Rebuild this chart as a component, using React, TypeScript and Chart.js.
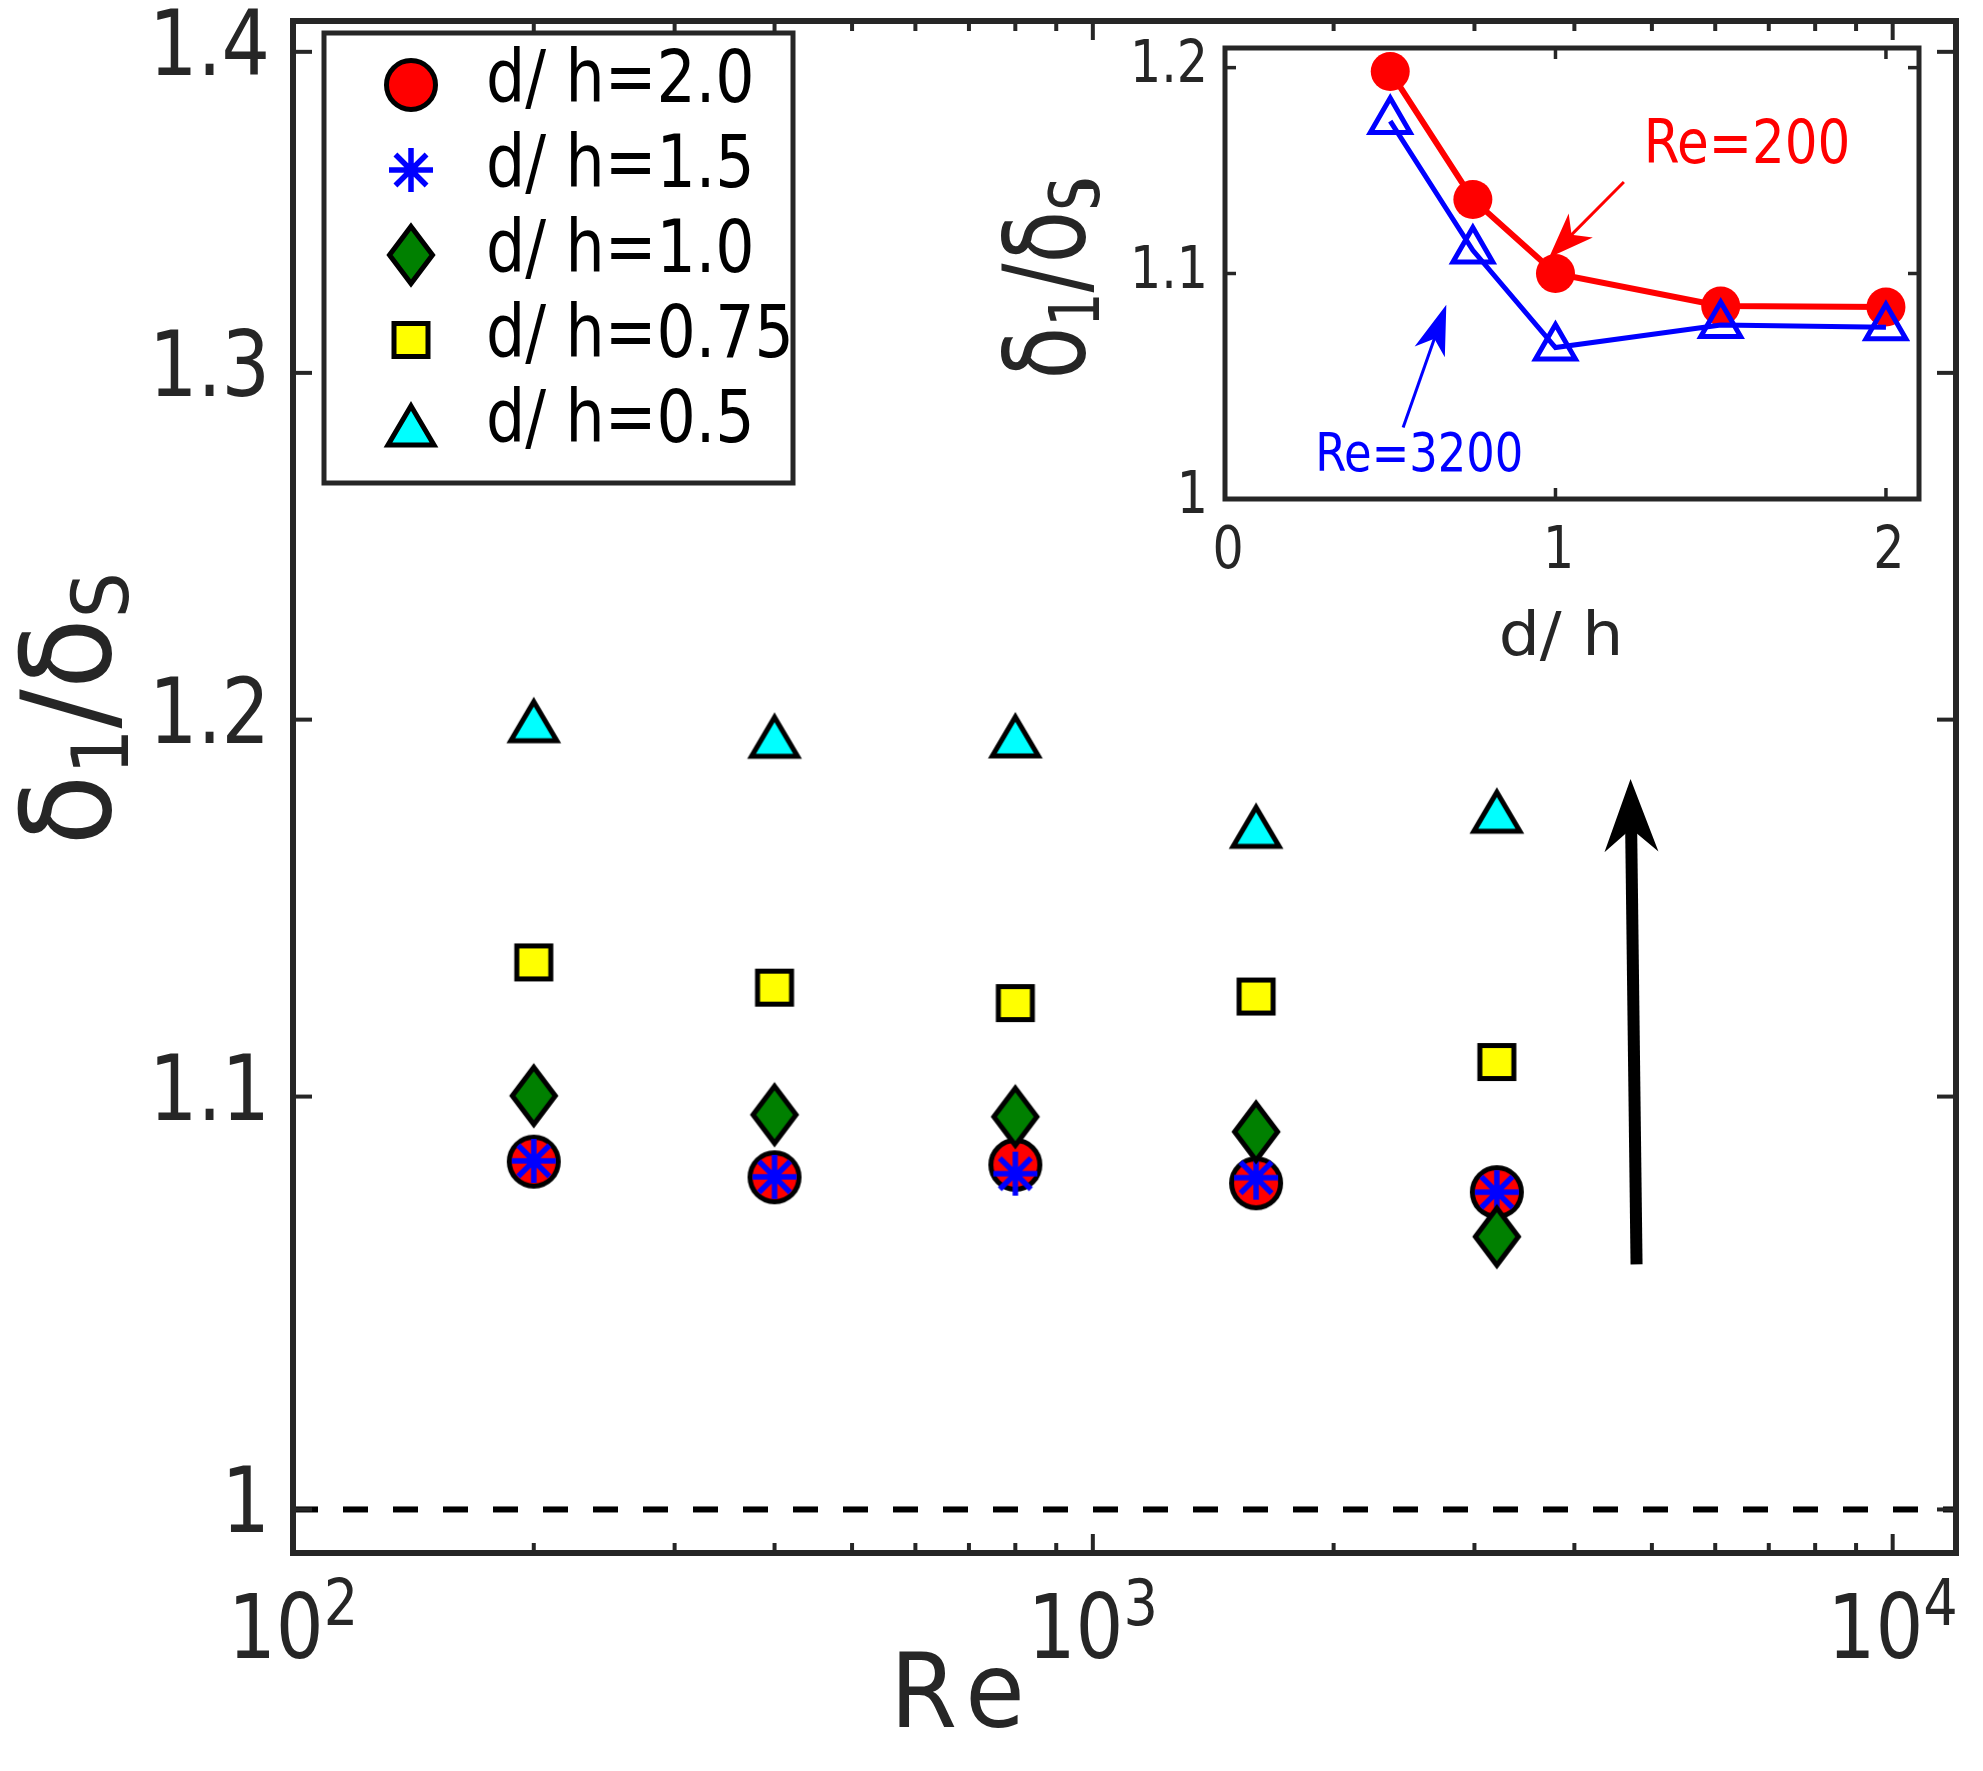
import React, { useEffect, useRef } from 'react';
import { Chart, registerables } from 'chart.js';

Chart.register(...registerables);

const FONT_C = "'DejaVu Sans Condensed', 'DejaVu Sans', sans-serif";
const FONT_N = "'DejaVu Sans', sans-serif";
const AXIS_COLOR = '#262626';
const SX_C = 0.94;
const SX_N = 0.93;

// ---------------- main chart data ----------------
const reValues = [200, 400, 800, 1600, 3200];
const dh20 = [1.0836, 1.0797, 1.0828, 1.0782, 1.076];
const dh15 = [1.0838, 1.0798, 1.0806, 1.0796, 1.076];
const dh10 = [1.1002, 1.0954, 1.0949, 1.0911, 1.065];
const dh075 = [1.1346, 1.128, 1.124, 1.1257, 1.1088];
const dh05 = [1.1997, 1.1954, 1.1955, 1.1708, 1.1749];
const seriesLabels = ['d/ h=2.0', 'd/ h=1.5', 'd/ h=1.0', 'd/ h=0.75', 'd/ h=0.5'];
const markerKinds = ['circle', 'asterisk', 'diamond', 'square', 'triangle'];

const yTicks = [1, 1.1, 1.2, 1.3, 1.4];
const yTickLabels = ['1', '1.1', '1.2', '1.3', '1.4'];
const xMajorTicks = [100, 1000, 10000];
const xTickExponents = ['2', '3', '4'];
const xMinorTicks = [200, 300, 400, 500, 600, 700, 800, 900, 2000, 3000, 4000, 5000, 6000, 7000, 8000, 9000];
const refLineX = [100, 12000];
const refLineY = [1, 1];
const arrowTail = [4784, 1.0582];
const arrowTip = [4702, 1.1837];

// ---------------- inset data ----------------
const dhValues = [0.5, 0.75, 1.0, 1.5, 2.0];
const insetRe200 = [1.198, 1.135, 1.1, 1.085, 1.0845];
const insetRe3200 = [1.1732, 1.1108, 1.0661, 1.0763, 1.0753];
const insetXTicks = [0, 1, 2];
const insetXTickLabels = ['0', '1', '2'];
const insetYTicks = [1, 1.1, 1.2];
const insetYTickLabels = ['1', '1.1', '1.2'];
const redArrowTail = [1.207, 1.1434];
const redArrowTip = [0.9806, 1.1075];
const redTextPos = [1.267, 1.1528];
const blueArrowTail = [0.539, 1.0307];
const blueArrowTip = [0.6697, 1.0856];
const blueTextPos = [0.273, 1.012];

type Piece = { t: string; size: number; dy?: number; kern?: number };

function textW(ctx: CanvasRenderingContext2D, t: string, size: number, family = FONT_C, sx = SX_C) {
  ctx.font = `${size}px ${family}`;
  return ctx.measureText(t).width * sx;
}

function text(
  ctx: CanvasRenderingContext2D,
  t: string,
  x: number,
  y: number,
  size: number,
  align: CanvasTextAlign = 'left',
  color?: string,
  family = FONT_C,
  sx = SX_C
) {
  ctx.save();
  if (color) ctx.fillStyle = color;
  ctx.font = `${size}px ${family}`;
  ctx.textAlign = align;
  ctx.textBaseline = 'alphabetic';
  ctx.translate(x, y);
  ctx.scale(sx, 1);
  ctx.fillText(t, 0, 0);
  ctx.restore();
}

function piecesWidth(ctx: CanvasRenderingContext2D, pieces: Piece[], sx: number) {
  let w = 0;
  for (const p of pieces) w += textW(ctx, p.t, p.size, FONT_N, sx) + (p.kern || 0);
  return w;
}

function drawPieces(ctx: CanvasRenderingContext2D, pieces: Piece[], x: number, y: number, sx: number) {
  let cx = x;
  for (const p of pieces) {
    text(ctx, p.t, cx, y + (p.dy || 0), p.size, 'left', undefined, FONT_N, sx);
    cx += textW(ctx, p.t, p.size, FONT_N, sx) + (p.kern || 0);
  }
}

function makeMarker(kind: string): HTMLCanvasElement {
  const c = document.createElement('canvas');
  let w = 66;
  let h = 66;
  if (kind === 'diamond') {
    w = 60;
    h = 78;
  }
  c.width = w;
  c.height = h;
  const ctx = c.getContext('2d') as CanvasRenderingContext2D;
  const cx = w / 2;
  const cy = h / 2;
  ctx.lineJoin = 'miter';
  ctx.lineWidth = 5;
  ctx.strokeStyle = '#000000';
  ctx.beginPath();
  if (kind === 'circle') {
    ctx.arc(cx, cy, 24.5, 0, Math.PI * 2);
    ctx.fillStyle = '#ff0000';
    ctx.fill();
    ctx.stroke();
  } else if (kind === 'asterisk') {
    ctx.strokeStyle = '#0000ff';
    ctx.lineWidth = 5.5;
    for (let k = 0; k < 4; k++) {
      const a = (k * Math.PI) / 4;
      ctx.moveTo(cx - 22 * Math.cos(a), cy - 22 * Math.sin(a));
      ctx.lineTo(cx + 22 * Math.cos(a), cy + 22 * Math.sin(a));
    }
    ctx.stroke();
  } else if (kind === 'diamond') {
    ctx.moveTo(cx, cy - 28.5);
    ctx.lineTo(cx + 21.5, cy);
    ctx.lineTo(cx, cy + 28.5);
    ctx.lineTo(cx - 21.5, cy);
    ctx.closePath();
    ctx.fillStyle = '#008000';
    ctx.fill();
    ctx.stroke();
  } else if (kind === 'square') {
    ctx.rect(cx - 17, cy - 16.5, 34, 33);
    ctx.fillStyle = '#ffff00';
    ctx.fill();
    ctx.stroke();
  } else if (kind === 'triangle') {
    ctx.moveTo(cx, cy - 19);
    ctx.lineTo(cx + 23, cy + 20);
    ctx.lineTo(cx - 23, cy + 20);
    ctx.closePath();
    ctx.fillStyle = '#00ffff';
    ctx.fill();
    ctx.stroke();
  }
  return c;
}

function drawArrow(
  ctx: CanvasRenderingContext2D,
  x0: number,
  y0: number,
  x1: number,
  y1: number,
  lw: number,
  headLen: number,
  headHalfW: number,
  notchLen: number,
  color: string
) {
  const dx = x1 - x0;
  const dy = y1 - y0;
  const L = Math.hypot(dx, dy);
  const ux = dx / L;
  const uy = dy / L;
  const px = -uy;
  const py = ux;
  ctx.save();
  ctx.strokeStyle = color;
  ctx.fillStyle = color;
  ctx.lineWidth = lw;
  ctx.lineCap = 'butt';
  ctx.beginPath();
  ctx.moveTo(x0, y0);
  ctx.lineTo(x1 - ux * (notchLen - 2), y1 - uy * (notchLen - 2));
  ctx.stroke();
  ctx.beginPath();
  ctx.moveTo(x1, y1);
  ctx.lineTo(x1 - ux * headLen + px * headHalfW, y1 - uy * headLen + py * headHalfW);
  ctx.lineTo(x1 - ux * notchLen, y1 - uy * notchLen);
  ctx.lineTo(x1 - ux * headLen - px * headHalfW, y1 - uy * headLen - py * headHalfW);
  ctx.closePath();
  ctx.fill();
  ctx.restore();
}

function line(ctx: CanvasRenderingContext2D, a: number, b: number, c: number, d: number) {
  ctx.beginPath();
  ctx.moveTo(a, b);
  ctx.lineTo(c, d);
  ctx.stroke();
}

const zeroPad = (s: any) => {
  s.paddingTop = 0;
  s.paddingBottom = 0;
  s.paddingLeft = 0;
  s.paddingRight = 0;
};

const mainPlugin = {
  id: 'mainDecor',
  afterDraw(chart: any) {
    const ctx: CanvasRenderingContext2D = chart.ctx;
    const area = chart.chartArea;
    const xs = chart.scales.x;
    const ys = chart.scales.y;
    ctx.save();
    ctx.strokeStyle = AXIS_COLOR;
    ctx.fillStyle = AXIS_COLOR;
    // ticks
    ctx.lineWidth = 4;
    yTicks.forEach((v) => {
      const p = ys.getPixelForValue(v);
      line(ctx, area.left, p, area.left + 19, p);
      line(ctx, area.right, p, area.right - 19, p);
    });
    xMajorTicks.forEach((v) => {
      const p = xs.getPixelForValue(v);
      line(ctx, p, area.bottom, p, area.bottom - 19);
      line(ctx, p, area.top, p, area.top + 19);
    });
    xMinorTicks.forEach((v) => {
      const p = xs.getPixelForValue(v);
      line(ctx, p, area.bottom, p, area.bottom - 10);
      line(ctx, p, area.top, p, area.top + 10);
    });
    // box
    ctx.lineWidth = 6;
    ctx.strokeRect(area.left, area.top, area.right - area.left, area.bottom - area.top);

    // y tick labels
    yTicks.forEach((v, i) => {
      const p = ys.getPixelForValue(v);
      text(ctx, yTickLabels[i], area.left - 23, p + 23, 90, 'right');
    });

    // x tick labels 10^n
    xMajorTicks.forEach((v, i) => {
      const p = xs.getPixelForValue(v);
      const w10 = textW(ctx, '10', 89);
      const ws = textW(ctx, xTickExponents[i], 64);
      const total = w10 + ws;
      const start = p - total / 2;
      text(ctx, '10', start, 1658, 89, 'left');
      text(ctx, xTickExponents[i], start + w10, 1625, 64, 'left');
    });

    // x title
    text(ctx, 'R', 890, 1727, 104, 'left', undefined, FONT_N, SX_N);
    text(ctx, 'e', 890 + textW(ctx, 'R', 104, FONT_N, SX_N) + 8, 1727, 104, 'left', undefined, FONT_N, SX_N);

    // y title
    const yPieces: Piece[] = [
      { t: 'δ', size: 125 },
      { t: '1', size: 78, dy: 18 },
      { t: '/', size: 125 },
      { t: 'δ', size: 125 },
      { t: 'S', size: 78, dy: 18 },
    ];
    const tw = piecesWidth(ctx, yPieces, SX_N);
    ctx.save();
    ctx.translate(110, 709 + tw / 2);
    ctx.rotate(-Math.PI / 2);
    drawPieces(ctx, yPieces, 0, 0, SX_N);
    ctx.restore();

    // legend
    const lx0 = 324;
    const ly0 = 33;
    const lx1 = 793;
    const ly1 = 483;
    ctx.fillStyle = '#ffffff';
    ctx.fillRect(lx0, ly0, lx1 - lx0, ly1 - ly0);
    ctx.lineWidth = 5;
    ctx.strokeStyle = AXIS_COLOR;
    ctx.strokeRect(lx0, ly0, lx1 - lx0, ly1 - ly0);
    const ds = chart.data.datasets.filter((d: any) => d.isSeries);
    ds.forEach((d: any, i: number) => {
      const cy = 85 + i * 85;
      const img: HTMLCanvasElement = d.pointStyle;
      ctx.drawImage(img, 411 - img.width / 2, cy - img.height / 2);
      text(ctx, d.label, 486, cy + 17, 73, 'left', '#000000');
    });

    // arrow
    drawArrow(
      ctx,
      xs.getPixelForValue(arrowTail[0]),
      ys.getPixelForValue(arrowTail[1]),
      xs.getPixelForValue(arrowTip[0]),
      ys.getPixelForValue(arrowTip[1]),
      12,
      73,
      27,
      50,
      '#000000'
    );
    ctx.restore();
  },
};

const insetPlugin = {
  id: 'insetDecor',
  afterDraw(chart: any) {
    const ctx: CanvasRenderingContext2D = chart.ctx;
    const area = chart.chartArea;
    const xs = chart.scales.x;
    const ys = chart.scales.y;
    ctx.save();
    ctx.strokeStyle = AXIS_COLOR;
    ctx.fillStyle = AXIS_COLOR;
    ctx.lineWidth = 3.5;
    insetYTicks.forEach((v) => {
      const p = ys.getPixelForValue(v);
      line(ctx, area.left, p, area.left + 11, p);
      line(ctx, area.right, p, area.right - 11, p);
    });
    insetXTicks.forEach((v) => {
      const p = xs.getPixelForValue(v);
      line(ctx, p, area.bottom, p, area.bottom - 11);
      line(ctx, p, area.top, p, area.top + 11);
    });
    ctx.lineWidth = 5;
    ctx.strokeRect(area.left, area.top, area.right - area.left, area.bottom - area.top);

    // tick labels
    insetYTicks.forEach((v, i) => {
      const p = ys.getPixelForValue(v);
      text(ctx, insetYTickLabels[i], area.left - 17, p + 14, 58, 'right');
    });
    insetXTicks.forEach((v, i) => {
      const p = xs.getPixelForValue(v);
      text(ctx, insetXTickLabels[i], p + 3, area.bottom + 69, 58, 'center');
    });

    // x title
    text(ctx, 'd/ h', 581, 635, 60, 'center', undefined, FONT_N, 1.08);

    // y title
    const yPieces: Piece[] = [
      { t: 'δ', size: 112 },
      { t: '1', size: 70, dy: 15 },
      { t: '/', size: 112 },
      { t: 'δ', size: 112 },
      { t: 'S', size: 70, dy: 15 },
    ];
    const sxY = 0.77;
    const tw = piecesWidth(ctx, yPieces, sxY);
    ctx.save();
    ctx.translate(104, 258 + tw / 2);
    ctx.rotate(-Math.PI / 2);
    drawPieces(ctx, yPieces, 0, 0, sxY);
    ctx.restore();
    ctx.lineWidth = 4;
    line(ctx, 95, 167, 113, 167);

    // annotations
    drawArrow(
      ctx,
      xs.getPixelForValue(redArrowTail[0]),
      ys.getPixelForValue(redArrowTail[1]),
      xs.getPixelForValue(redArrowTip[0]),
      ys.getPixelForValue(redArrowTip[1]),
      3,
      45,
      17,
      32,
      '#ff0000'
    );
    drawArrow(
      ctx,
      xs.getPixelForValue(blueArrowTail[0]),
      ys.getPixelForValue(blueArrowTail[1]),
      xs.getPixelForValue(blueArrowTip[0]),
      ys.getPixelForValue(blueArrowTip[1]),
      3,
      50,
      16,
      36,
      '#0000ff'
    );
    text(ctx, 'Re=200', xs.getPixelForValue(redTextPos[0]), ys.getPixelForValue(redTextPos[1]), 61, 'left', '#ff0000');
    text(ctx, 'Re=3200', xs.getPixelForValue(blueTextPos[0]), ys.getPixelForValue(blueTextPos[1]), 53, 'left', '#0000ff');
    ctx.restore();
  },
};

export default function App() {
  const mainRef = useRef<HTMLCanvasElement | null>(null);
  const insetRef = useRef<HTMLCanvasElement | null>(null);

  useEffect(() => {
    const markers = markerKinds.map((k) => makeMarker(k));
    const series = [dh20, dh15, dh10, dh075, dh05];
    const datasets: any[] = [
      {
        label: 'reference',
        data: refLineX.map((x, i) => ({ x, y: refLineY[i] })),
        showLine: true,
        borderColor: '#000000',
        borderWidth: 6,
        borderDash: [25, 25],
        pointRadius: 0,
        order: 10,
        isSeries: false,
      },
    ];
    series.forEach((s, i) => {
      datasets.push({
        label: seriesLabels[i],
        data: reValues.map((x, j) => ({ x, y: s[j] })),
        showLine: false,
        pointStyle: markers[i],
        pointRadius: 20,
        pointHoverRadius: 20,
        order: 5 - i,
        isSeries: true,
      });
    });

    const main = new Chart(mainRef.current as HTMLCanvasElement, {
      type: 'scatter',
      data: { datasets },
      options: {
        animation: false,
        responsive: false,
        maintainAspectRatio: false,
        events: [],
        layout: { padding: { left: 0, top: 15, right: 27, bottom: 0 } },
        plugins: { legend: { display: false }, tooltip: { enabled: false } },
        scales: {
          x: {
            type: 'logarithmic',
            min: 100,
            max: 12000,
            grid: { display: false, drawTicks: false },
            border: { display: false },
            ticks: { display: false },
            afterBuildTicks: (s: any) => {
              s.ticks = xMajorTicks.map((v) => ({ value: v }));
            },
            afterFit: (s: any) => {
              s.height = 218;
              zeroPad(s);
            },
          },
          y: {
            type: 'logarithmic',
            min: 0.99,
            max: 1.41,
            grid: { display: false, drawTicks: false },
            border: { display: false },
            ticks: { display: false },
            afterBuildTicks: (s: any) => {
              s.ticks = yTicks.map((v) => ({ value: v }));
            },
            afterFit: (s: any) => {
              s.width = 293;
              zeroPad(s);
            },
          },
        },
      } as any,
      plugins: [mainPlugin],
    });

    const inset = new Chart(insetRef.current as HTMLCanvasElement, {
      type: 'scatter',
      data: {
        datasets: [
          {
            label: 'Re=200',
            data: dhValues.map((x, i) => ({ x, y: insetRe200[i] })),
            showLine: true,
            borderColor: '#ff0000',
            borderWidth: 6,
            pointStyle: 'circle',
            pointRadius: 19.5,
            pointBackgroundColor: '#ff0000',
            pointBorderWidth: 0,
            order: 2,
          },
          {
            label: 'Re=3200',
            data: dhValues.map((x, i) => ({ x, y: insetRe3200[i] })),
            showLine: true,
            borderColor: '#0000ff',
            borderWidth: 5,
            pointStyle: 'triangle',
            pointRadius: 23,
            pointBackgroundColor: 'rgba(0,0,0,0)',
            pointBorderColor: '#0000ff',
            pointBorderWidth: 5,
            order: 1,
          },
        ],
      },
      options: {
        animation: false,
        responsive: false,
        maintainAspectRatio: false,
        events: [],
        layout: { padding: { left: 0, top: 25, right: 61, bottom: 0 } },
        plugins: { legend: { display: false }, tooltip: { enabled: false } },
        scales: {
          x: {
            type: 'linear',
            min: 0,
            max: 2.1,
            grid: { display: false, drawTicks: false },
            border: { display: false },
            ticks: { display: false },
            afterBuildTicks: (s: any) => {
              s.ticks = insetXTicks.map((v) => ({ value: v }));
            },
            afterFit: (s: any) => {
              s.height = 201;
              zeroPad(s);
            },
          },
          y: {
            type: 'logarithmic',
            min: 1,
            max: 1.21,
            grid: { display: false, drawTicks: false },
            border: { display: false },
            ticks: { display: false },
            afterBuildTicks: (s: any) => {
              s.ticks = insetYTicks.map((v) => ({ value: v }));
            },
            afterFit: (s: any) => {
              s.width = 245;
              zeroPad(s);
            },
          },
        },
      } as any,
      plugins: [insetPlugin],
    });

    return () => {
      main.destroy();
      inset.destroy();
    };
  }, []);

  return (
    <div style={{ position: 'absolute', left: 0, top: 0, width: 1983, height: 1771, background: '#ffffff' }}>
      <canvas ref={mainRef} width={1983} height={1771} style={{ position: 'absolute', left: 0, top: 0, width: 1983, height: 1771 }} />
      <canvas ref={insetRef} width={1000} height={680} style={{ position: 'absolute', left: 980, top: 20, width: 1000, height: 680 }} />
    </div>
  );
}
